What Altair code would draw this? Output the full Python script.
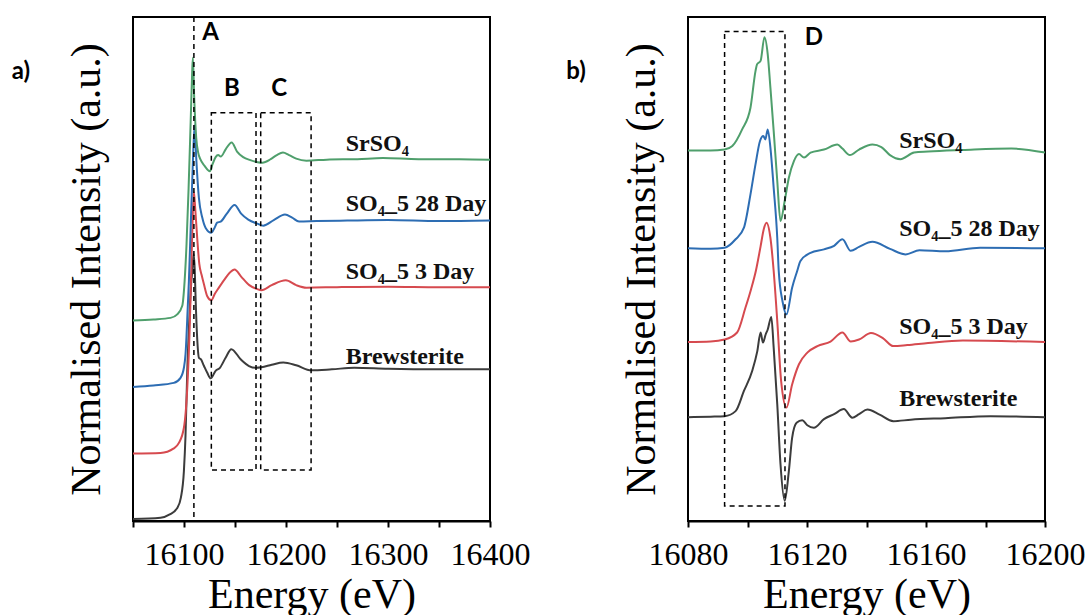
import altair as alt
import pandas as pd

# ---------------- panel a data (Energy eV, normalised intensity offset, a.u. 0-100) ----------
green_a_E = [16050, 16070, 16086.8, 16093.4, 16098.3, 16100.6, 16102.5, 16104.5, 16106.5, 16108, 16108.7,
             16110, 16112, 16114, 16116, 16120, 16125.4, 16128, 16131, 16133.5, 16136, 16141, 16146.7,
             16152, 16158, 16165, 16172, 16177, 16185, 16191, 16197, 16203, 16210, 16220, 16240, 16270,
             16295, 16330, 16370, 16400]
green_a_Y = [39.8, 40.0, 40.3, 41.0, 42.7, 47.6, 55, 66, 79, 89, 91.9,
             84, 76, 73, 71.8, 70.5, 69.4, 70.8, 72.2, 72.6, 72.3, 73.8, 75.1,
             73.3, 72.2, 71.6, 71.2, 71.1, 71.8, 72.6, 73.1, 72.6, 71.9, 71.5, 71.7, 71.8,
             72.0, 71.8, 71.8, 71.7]

blue_a_E = [16050, 16070, 16090, 16096.6, 16100, 16101.5, 16103.8, 16104.8, 16106.5, 16108.5, 16110.4,
            16112, 16114.6, 16117.9, 16121.1, 16126.8, 16130, 16132.5, 16135.9, 16142, 16149.6, 16156,
            16163, 16171.9, 16177.7, 16188, 16199, 16206, 16212.8, 16230, 16260, 16300, 16350, 16400]
blue_a_Y = [26.6, 26.9, 27.4, 28.4, 30.5, 33.1, 43, 47.6, 58, 70, 78.5,
            72, 64.1, 60.2, 58.2, 57.2, 58.2, 59.2, 59.4, 61.0, 62.7, 61.0,
            59.8, 59.0, 58.6, 59.7, 60.8, 60.2, 59.4, 59.5, 59.6, 59.7, 59.5, 59.6]

red_a_E = [16050, 16077, 16090, 16095, 16099.9, 16103.2, 16105.8, 16107.1, 16108.5, 16109.7, 16111,
           16113, 16115, 16117.3, 16119.5, 16122.8, 16126.8, 16130, 16134.2, 16140, 16145, 16149.6,
           16156, 16164, 16171.9, 16176, 16186, 16199.8, 16210, 16220, 16250, 16300, 16350, 16400]
red_a_Y = [13.4, 13.5, 14.4, 15.5, 18.5, 26.4, 39.7, 49.6, 60, 65.3, 62,
           56, 51, 48.8, 47.0, 44.6, 43.8, 45.0, 46.3, 48.0, 49.3, 49.9,
           48.5, 46.8, 46.0, 45.8, 46.8, 47.75, 46.8, 46.3, 46.4, 46.5, 46.4, 46.4]

black_a_E = [16050, 16077, 16086, 16093.4, 16097, 16099.9, 16101.5, 16103.2, 16105, 16107, 16108.1,
             16109.5, 16110.5, 16111.4, 16113, 16114.6, 16116.5, 16119.5, 16122.8, 16126.1, 16131,
             16135.2, 16140.8, 16146.4, 16155.5, 16163.7, 16170.3, 16176, 16186, 16197.4, 16210,
             16224.7, 16245, 16267, 16300, 16350, 16400]
black_a_Y = [0.4, 0.65, 1.3, 2.6, 4.7, 9.9, 17, 29.8, 39, 47, 49.6,
             53.0, 50, 44, 36, 32.4, 32.1, 30.8, 29.4, 28.3, 29.8,
             30.4, 32.4, 34.1, 32.1, 30.75, 30.4, 30.5, 31.0, 31.45, 30.9,
             29.9, 30.1, 30.4, 30.2, 30.1, 30.1]

# ---------------- panel b data ----------------
green_b_E = [16080, 16087.6, 16092.3, 16094.9, 16098.2, 16101, 16102.7, 16103.2, 16104.4, 16105.7,
             16106.8, 16107.7, 16108.8, 16110, 16111.1, 16112.5, 16113.9, 16115.6, 16117.3, 16119,
             16121.2, 16125.7, 16130.2, 16131.9, 16134.4, 16137.5, 16142, 16145, 16147.9, 16151.4,
             16156, 16160.7, 16172.4, 16188.7, 16200]
green_b_Y = [73.5, 73.5, 73.7, 74.4, 77.7, 82.0, 89.3, 90.6, 91.3, 96.0,
             92.6, 86.0, 77.4, 67.5, 59.5, 63.5, 68.1, 71.4, 72.8, 72.1,
             73.1, 73.7, 74.7, 73.9, 72.6, 73.7, 74.7, 74.2, 72.6, 71.8,
             73.1, 73.3, 73.6, 73.9, 73.1]

blue_b_E = [16080, 16087.6, 16092.3, 16096, 16098.8, 16101, 16102.7, 16104.2, 16105.3, 16106,
            16106.8, 16107.7, 16108.8, 16110, 16110.5, 16111.8, 16113.1, 16115, 16116.7, 16117.8,
            16121.2, 16125.7, 16129.1, 16131.9, 16134.7, 16137.5, 16142, 16147.9, 16153.1, 16157.8,
            16166.5, 16178.2, 16200]
blue_b_Y = [54.1, 54.0, 54.2, 55.9, 58.2, 64.8, 70.8, 75.4, 76.4, 75.7,
            77.7, 74.1, 66.1, 56.2, 49.6, 43.5, 41.0, 46.3, 49.6, 51.6,
            53.2, 53.9, 54.6, 55.9, 53.6, 54.4, 55.4, 54.0, 52.9, 53.7,
            53.5, 54.2, 54.1]

red_b_E = [16080, 16087.6, 16092.3, 16096.5, 16099.3, 16101.2, 16102.8, 16104.4, 16105.5, 16106.4,
           16107.7, 16108.8, 16110, 16111.3, 16113.1, 16115, 16117.3, 16120.1, 16123.5, 16127.9,
           16131.9, 16134.7, 16137.5, 16141.5, 16145.5, 16149, 16153.7, 16160.7, 16172.4, 16200]
red_b_Y = [35.5, 35.6, 36.0, 37.4, 42.3, 46.0, 49.6, 54.5, 58.0, 59.2,
           56.2, 49.6, 39.7, 27.8, 22.5, 27.1, 31.1, 33.4, 34.7, 35.6,
           37.4, 35.6, 36.0, 37.3, 36.3, 34.7, 34.9, 35.3, 35.8, 35.5]

black_b_E = [16080, 16087.6, 16092.3, 16096, 16098.8, 16101.6, 16103.3, 16104.4, 16105.2, 16106.1,
             16106.8, 16108, 16108.8, 16110, 16111.1, 16112.5, 16113.9, 16115, 16116.5, 16118.4,
             16120.1, 16122.3, 16125.7, 16129.1, 16132.4, 16135.2, 16137.5, 16140.3, 16144.4, 16149,
             16154.9, 16166.5, 16181.7, 16200]
black_b_Y = [20.6, 20.7, 20.8, 21.8, 25.8, 29.8, 33.7, 37.4, 35.4, 37.0,
             38.0, 40.5, 34.4, 23.2, 11.2, 4.0, 9.9, 16.5, 19.5, 20.0,
             19.0, 18.5, 20.2, 21.2, 22.2, 20.5, 21.2, 22.1, 21.1, 19.8,
             20.1, 20.4, 20.8, 20.6]

series_names = ["Brewsterite", "SO₄_5 3 Day", "SO₄_5 28 Day", "SrSO₄"]
series_colors = ["#3c3c3c", "#d64a4f", "#2d6db3", "#4f9f6c"]

label_text = ["SrSO₄", "SO₄_5 28 Day", "SO₄_5 3 Day", "Brewsterite"]
label_a_E = [16258.5, 16258.5, 16258.5, 16258.5]
label_a_Y = [73.5, 61.6, 48.0, 31.1]
label_b_E = [16151, 16151, 16151, 16151]
label_b_Y = [74.1, 56.5, 37.2, 22.8]

# annotation boxes / markers
box_a_x1 = [16126.8, 16175.2]
box_a_x2 = [16170.6, 16224.6]
box_a_y1 = [10.1, 10.1]
box_a_y2 = [81.0, 81.0]
line_a_E = [16109.7]
letters_a = ["A", "B", "C"]
letters_a_E = [16126.1, 16146.9, 16193.2]
letters_a_Y = [96.8, 85.8, 85.8]

box_b_x1 = [16092.3]
box_b_x2 = [16112.6]
box_b_y1 = [3.0]
box_b_y2 = [97.1]
letters_b = ["D"]
letters_b_E = [16122.3]
letters_b_Y = [95.9]

SERIF = "Liberation Serif"
SANS = "Lato"
W, H = 357, 504


def curves_df(groups):
    rows = []
    for name, es, ys in groups:
        for e, y in zip(es, ys):
            rows.append({"series": name, "E": e, "Y": y})
    return pd.DataFrame(rows)


def panel(df, domain, ticks, label_expr, labels_df, boxes_df, letters_df, tag, rule_df=None):
    xscale = alt.Scale(domain=domain, nice=False, zero=False)
    yscale = alt.Scale(domain=[0, 100], nice=False, zero=False)
    xaxis = alt.Axis(values=ticks, labelExpr=label_expr, title="Energy (eV)", grid=False,
                     labelFont=SERIF, titleFont=SERIF, format="d")
    yaxis = alt.Axis(title="Normalised Intensity (a.u.)", labels=False, ticks=False, domain=False,
                     grid=False, titleFont=SERIF)
    X = alt.X("E:Q", scale=xscale, axis=xaxis)
    Y = alt.Y("Y:Q", scale=yscale, axis=yaxis)
    lines = alt.Chart(df).mark_line(strokeWidth=2, interpolate="monotone").encode(
        x=X, y=Y,
        color=alt.Color("series:N", scale=alt.Scale(domain=series_names, range=series_colors),
                        legend=None),
    )
    boxes = alt.Chart(boxes_df).mark_rect(fillOpacity=0, stroke="black", strokeWidth=1.5,
                                          strokeDash=[5, 4]).encode(
        x=alt.X("x1:Q", scale=xscale, axis=xaxis), x2="x2:Q",
        y=alt.Y("y1:Q", scale=yscale, axis=yaxis), y2="y2:Q")
    letters = alt.Chart(letters_df).mark_text(font=SANS, fontWeight="bold", fontSize=24,
                                              color="black", baseline="middle").encode(
        x=X, y=Y, text="t:N")
    labels = alt.Chart(labels_df).mark_text(font=SERIF, fontWeight="bold", fontSize=24,
                                            color="#111111", align="left",
                                            baseline="alphabetic").encode(
        x=X, y=Y, text="t:N")
    tag_mark = alt.Chart(pd.DataFrame({"t": [tag]})).mark_text(
        font=SANS, fontWeight="bold", fontSize=24, color="black", baseline="middle").encode(
        x=alt.value(-112), y=alt.value(55), text="t:N")
    layers = [lines, boxes]
    if rule_df is not None:
        layers.append(alt.Chart(rule_df).mark_rule(color="black", strokeWidth=1.5,
                                                   strokeDash=[5, 4]).encode(x=X))
    layers += [letters, labels, tag_mark]
    return alt.layer(*layers).properties(width=W, height=H)


df_a = curves_df([("Brewsterite", black_a_E, black_a_Y), ("SO₄_5 3 Day", red_a_E, red_a_Y),
                  ("SO₄_5 28 Day", blue_a_E, blue_a_Y), ("SrSO₄", green_a_E, green_a_Y)])
df_b = curves_df([("Brewsterite", black_b_E, black_b_Y), ("SO₄_5 3 Day", red_b_E, red_b_Y),
                  ("SO₄_5 28 Day", blue_b_E, blue_b_Y), ("SrSO₄", green_b_E, green_b_Y)])

labels_a = pd.DataFrame({"t": label_text, "E": label_a_E, "Y": label_a_Y})
labels_b = pd.DataFrame({"t": label_text, "E": label_b_E, "Y": label_b_Y})
boxes_a = pd.DataFrame({"x1": box_a_x1, "x2": box_a_x2, "y1": box_a_y1, "y2": box_a_y2})
boxes_b = pd.DataFrame({"x1": box_b_x1, "x2": box_b_x2, "y1": box_b_y1, "y2": box_b_y2})
letters_a_df = pd.DataFrame({"t": letters_a, "E": letters_a_E, "Y": letters_a_Y})
letters_b_df = pd.DataFrame({"t": letters_b, "E": letters_b_E, "Y": letters_b_Y})
rule_a = pd.DataFrame({"E": line_a_E})

pa = panel(df_a, [16050, 16400], [16050, 16100, 16150, 16200, 16250, 16300, 16350, 16400],
           "datum.value % 100 == 0 ? format(datum.value, 'd') : ''", labels_a, boxes_a,
           letters_a_df, "a)", rule_df=rule_a)
pb = panel(df_b, [16080, 16200], [16080, 16100, 16120, 16140, 16160, 16180, 16200],
           "(datum.value - 16080) % 40 == 0 ? format(datum.value, 'd') : ''", labels_b, boxes_b,
           letters_b_df, "b)")

chart = alt.hconcat(pa, pb, spacing=34).properties(
    padding={"left": 10, "top": 15, "right": 0, "bottom": 0}, background="white"
).configure_view(stroke="black", strokeWidth=2).configure_axis(
    labelFont=SERIF, labelFontSize=32, labelColor="black", labelFlush=False, labelOverlap=False,
    labelPadding=12, tickSize=6, tickWidth=2, tickColor="black", domainColor="black",
    domainWidth=2, titleFont=SERIF, titleFontSize=42, titleFontWeight="normal",
    titleColor="black"
).configure_axisX(titlePadding=4).configure_axisY(titlePadding=25)

chart.save("out.html", embed_options={"renderer": "svg", "actions": False})
